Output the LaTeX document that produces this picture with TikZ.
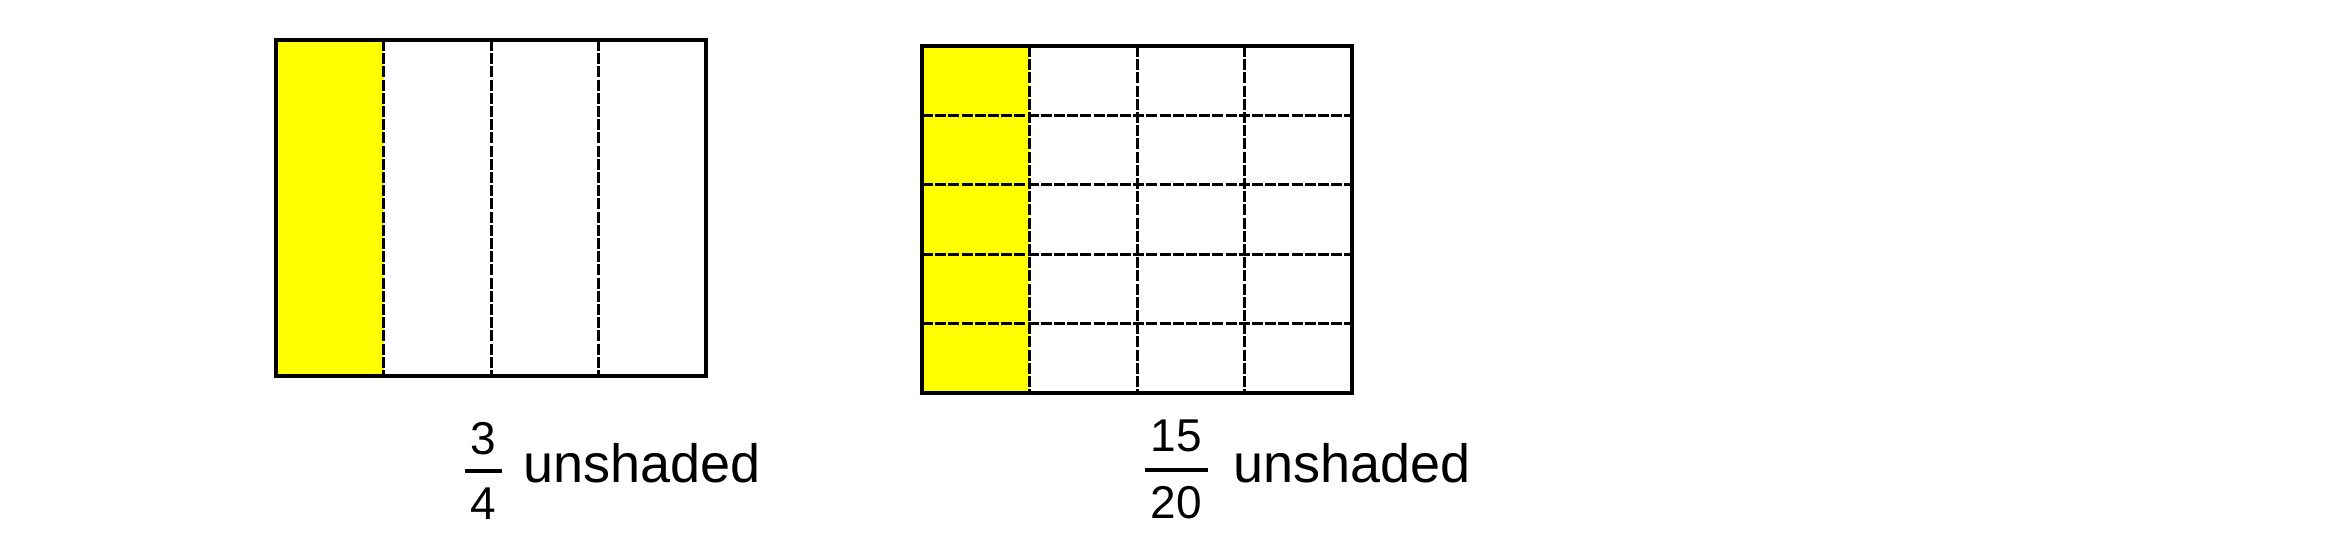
\documentclass[tikz,border=0pt]{standalone}
\usepackage{fontspec}
\setmainfont{Liberation Sans}
\definecolor{shadeyellow}{RGB}{255,255,0}
\begin{document}
\begin{tikzpicture}[x=0.5pt,y=-0.5pt,
  outer/.style={draw=black,line width=2pt},
  divider/.style={draw=black,line width=1.5pt,dash pattern=on 5.5pt off 1.1pt},
  shade/.style={fill=shadeyellow},
  word/.style={anchor=base west,inner sep=0pt,font=\fontsize{27}{32}\selectfont},
  digit/.style={anchor=base,inner sep=0pt,font=\fontsize{23}{27}\selectfont},
  fracbar/.style={draw=black,line width=1.7pt}]
\useasboundingbox (0,0) rectangle (2338,544);
% left model: 4 columns
\fill[shade] (276,40) rectangle (383.5,376);
\foreach \x in {383.5,491,598.5} \draw[divider] (\x,40) -- (\x,376);
\draw[outer] (276,40) rectangle (706,376);
% right model: 4 columns x 5 rows
\fill[shade] (922,46) rectangle (1029.5,393);
\foreach \x in {1029.5,1137,1244.5} \draw[divider] (\x,46) -- (\x,393);
\foreach \y in {115.4,184.8,254.2,323.6} \draw[divider] (922,\y) -- (1352,\y);
\draw[outer] (922,46) rectangle (1352,393);
% labels
\node[digit] (n1) at (483,455) {3};
\node[digit] (d1) at (483,520) {4};
\draw[fracbar] (465,471) -- (502,471);
\node[word] (w1) at (523,483) {unshaded};
\node[digit] (n2) at (1176,452) {15};
\node[digit] (d2) at (1176,518) {20};
\draw[fracbar] (1145,470) -- (1208,470);
\node[word] (w2) at (1233,483) {unshaded};
\end{tikzpicture}
\end{document}
